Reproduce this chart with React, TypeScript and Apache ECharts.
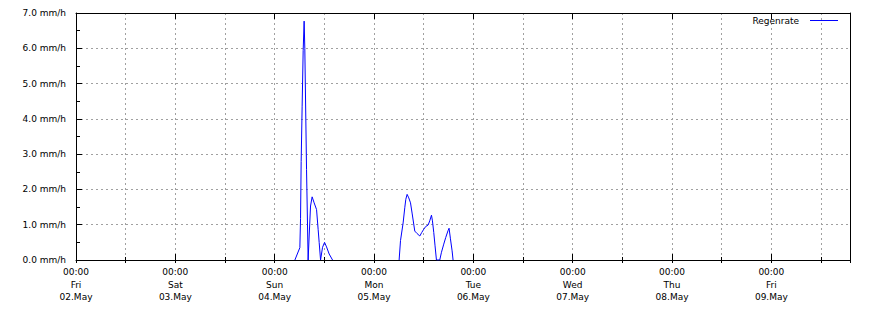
import React, { useEffect, useRef } from 'react';
import * as echarts from 'echarts';

const seriesName = 'Regenrate';
const rangeStart = '2025-05-02T00:00Z';
const rangeEnd = '2025-05-09T19:00Z';
const yMax = 7;

// rain rate (mm/h), Sunday event
const sunTimes = [
  '2025-05-04T04:53Z', '2025-05-04T06:05Z', '2025-05-04T06:15Z', '2025-05-04T06:24Z',
  '2025-05-04T06:38Z', '2025-05-04T06:53Z', '2025-05-04T07:07Z', '2025-05-04T07:17Z',
  '2025-05-04T07:42Z', '2025-05-04T08:05Z', '2025-05-04T08:20Z', '2025-05-04T08:40Z',
  '2025-05-04T09:03Z', '2025-05-04T09:32Z', '2025-05-04T10:07Z', '2025-05-04T10:30Z',
  '2025-05-04T10:45Z', '2025-05-04T11:05Z', '2025-05-04T11:34Z', '2025-05-04T12:03Z',
  '2025-05-04T12:32Z', '2025-05-04T13:10Z', '2025-05-04T13:59Z',
];
const sunValues = [
  0, 0.35, 1.17, 2.79,
  4.34, 5.93, 6.77, 5.99,
  2.56, 0, 0.68, 1.53,
  1.79, 1.62, 1.43, 0.87,
  0.5, 0, 0.36, 0.5,
  0.37, 0.17, 0,
];

// rain rate (mm/h), Monday event
const monTimes = [
  '2025-05-05T06:04Z', '2025-05-05T06:24Z', '2025-05-05T07:02Z', '2025-05-05T07:26Z',
  '2025-05-05T07:41Z', '2025-05-05T08:00Z', '2025-05-05T08:24Z', '2025-05-05T08:49Z',
  '2025-05-05T09:12Z', '2025-05-05T09:51Z', '2025-05-05T10:24Z', '2025-05-05T11:04Z',
  '2025-05-05T11:32Z', '2025-05-05T12:01Z', '2025-05-05T12:30Z', '2025-05-05T13:04Z',
  '2025-05-05T13:28Z', '2025-05-05T13:53Z', '2025-05-05T14:07Z', '2025-05-05T14:26Z',
  '2025-05-05T14:45Z', '2025-05-05T15:05Z', '2025-05-05T15:53Z', '2025-05-05T16:18Z',
  '2025-05-05T16:51Z', '2025-05-05T17:20Z', '2025-05-05T17:53Z', '2025-05-05T18:08Z',
  '2025-05-05T18:28Z', '2025-05-05T18:52Z', '2025-05-05T19:06Z',
];
const monValues = [
  0, 0.55, 1.05, 1.48,
  1.72, 1.86, 1.76, 1.62,
  1.33, 0.82, 0.75, 0.68,
  0.78, 0.87, 0.95, 0.99,
  1.11, 1.27, 1.11, 0.78,
  0.4, 0, 0, 0.22,
  0.45, 0.64, 0.83, 0.9,
  0.6, 0.26, 0,
];

const dayNames = ['Sun', 'Mon', 'Tue', 'Wed', 'Thu', 'Fri', 'Sat'];
const monthNames = ['Jan', 'Feb', 'Mar', 'Apr', 'May', 'Jun', 'Jul', 'Aug', 'Sep', 'Oct', 'Nov', 'Dec'];

const DAY = 86400000;
const HALF = 43200000;
const FONT = 'DejaVu Sans';

function pad(n: number) {
  return n < 10 ? '0' + n : '' + n;
}

export default function App() {
  const ref = useRef<HTMLDivElement>(null);

  useEffect(() => {
    if (!ref.current) return;
    const chart = echarts.init(ref.current, undefined, { renderer: 'svg' });

    const data: any[] = [];
    sunTimes.forEach((t, i) => data.push([Date.parse(t), sunValues[i]]));
    data.push([Date.parse(sunTimes[sunTimes.length - 1]) + 60000, null]);
    monTimes.forEach((t, i) => data.push([Date.parse(t), monValues[i]]));

    const min = Date.parse(rangeStart);
    const max = Date.parse(rangeEnd);

    const dash = { color: '#a0a0a0', width: 1, type: [2, 3] as any };
    const black = { color: '#000', width: 1 };

    const xBase = {
      type: 'value' as const,
      min,
      max,
      axisLine: { show: true, onZero: false, lineStyle: black },
      axisLabel: { show: false },
      splitLine: { show: false },
    };

    chart.setOption({
      animation: false,
      backgroundColor: '#fff',
      grid: { left: 76, right: 20, top: 13, bottom: 50, containLabel: false },
      legend: {
        data: [seriesName],
        right: 32,
        top: 16,
        padding: 0,
        align: 'right',
        icon: 'rect',
        itemWidth: 28,
        itemHeight: 1,
        itemStyle: { color: '#0000ff' },
        textStyle: { fontFamily: FONT, fontSize: 9, color: '#000', padding: [0, 6, 0, 0] },
      },
      xAxis: [
        {
          ...xBase,
          position: 'bottom',
          interval: DAY,
          axisTick: { show: true, inside: true, length: 6, lineStyle: black },
          axisLabel: {
            show: true,
            margin: 6,
            fontFamily: FONT,
            fontSize: 9,
            color: '#000',
            lineHeight: 12.5,
            showMaxLabel: false,
            formatter: (v: number) => {
              if (v % DAY !== 0) return '';
              const d = new Date(v);
              return (
                pad(d.getUTCHours()) + ':' + pad(d.getUTCMinutes()) + '\n' +
                dayNames[d.getUTCDay()] + '\n' +
                pad(d.getUTCDate()) + '.' + monthNames[d.getUTCMonth()]
              );
            },
          },
        },
        {
          ...xBase,
          position: 'bottom',
          interval: HALF,
          axisLine: { show: false },
          axisTick: { show: true, inside: true, length: 3, lineStyle: black },
          splitLine: { show: true, lineStyle: dash },
        },
        {
          ...xBase,
          position: 'top',
          interval: DAY,
          axisTick: { show: true, inside: true, length: 6, lineStyle: black },
        },
        {
          ...xBase,
          position: 'top',
          interval: HALF,
          axisLine: { show: false },
          axisTick: { show: true, inside: true, length: 3, lineStyle: black },
        },
      ],
      yAxis: [
        {
          type: 'value',
          position: 'left',
          min: 0,
          max: yMax,
          interval: 1,
          axisLine: { show: true, onZero: false, lineStyle: black },
          axisTick: { show: true, inside: true, length: 6, lineStyle: black },
          minorTick: { show: true, splitNumber: 2, length: 4, lineStyle: black },
          splitLine: { show: true, lineStyle: dash },
          axisLabel: {
            show: true,
            margin: 10,
            fontFamily: FONT,
            fontSize: 9,
            color: '#000',
            formatter: (v: number) => v.toFixed(1) + ' mm/h',
          },
        },
        {
          type: 'value',
          position: 'right',
          min: 0,
          max: yMax,
          interval: 1,
          axisLine: { show: true, onZero: false, lineStyle: black },
          axisTick: { show: false },
          minorTick: { show: false },
          splitLine: { show: false },
          axisLabel: { show: false },
        },
      ],
      series: [
        {
          name: seriesName,
          type: 'line',
          xAxisIndex: 0,
          yAxisIndex: 0,
          data,
          showSymbol: false,
          connectNulls: false,
          color: '#0000ff',
          lineStyle: { color: '#0000ff', width: 1 },
        },
      ],
    });

    return () => chart.dispose();
  }, []);

  return (
    <div
      ref={ref}
      style={{ position: 'fixed', left: 0, top: 0, width: 870, height: 310, background: '#fff' }}
    />
  );
}
